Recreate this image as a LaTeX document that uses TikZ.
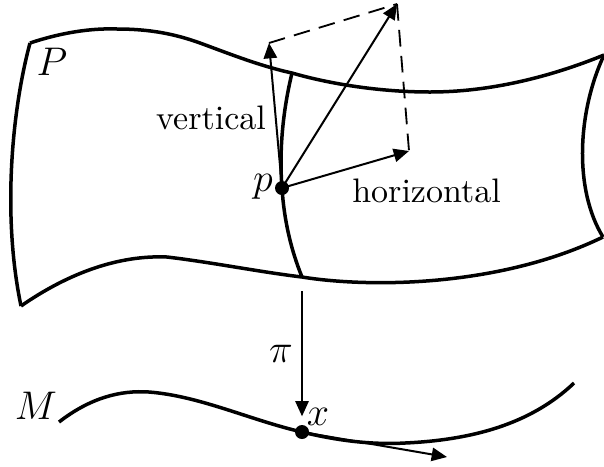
\documentclass[tikz,border=0pt]{standalone}
\usepackage{amsmath, amssymb}
\usepackage{tikz}
\usetikzlibrary{positioning, arrows.meta}

\tikzset{
  edgeline/.style={line width=1.05pt},
  vecline/.style={-{Triangle[length=4.6pt,width=4pt]}, line width=0.6pt},
  dashline/.style={line width=0.55pt, dash pattern=on 5pt off 2.8pt},
  dotnode/.style={circle, fill=black, inner sep=0pt, minimum size=4.2pt},
  lbl/.style={font=\fontsize{10.2}{12}\selectfont},
  mathlbl/.style={font=\fontsize{11.5}{13}\selectfont}
}

\begin{document}
\begin{tikzpicture}[x=0.3pt, y=-0.3pt]
    \useasboundingbox (0,0) rectangle (604,466);

    % bundle sheet
    \coordinate (NW) at (30,43);
    \coordinate (NE) at (604,55);
    \coordinate (SW) at (21,306);
    \coordinate (SE) at (603,237);
    \coordinate (fibtop) at (292,73);
    \coordinate (fibbot) at (302,277);

    \draw[edgeline] (NW) .. controls (60,33) and (90,28) .. (117,29)
        .. controls (150,29) and (175,34) .. (200,43)
        .. controls (230,54) and (260,66) .. (fibtop)
        .. controls (330,84) and (380,92) .. (430,92)
        .. controls (490,92) and (550,77) .. (NE);
    \draw[edgeline] (NW) .. controls (12,110) and (2,215) .. (SW);
    \draw[edgeline] (SW) .. controls (70,272) and (120,255) .. (167,257)
        .. controls (210,262) and (260,272) .. (fibbot)
        .. controls (370,288) and (500,287) .. (SE);
    \draw[edgeline] (NE) .. controls (577,113) and (574,190) .. (SE);
    \draw[edgeline] (fibtop) .. controls (283,110) and (279,150) .. (282,188)
        .. controls (284,220) and (291,250) .. (fibbot);

    % base curve
    \coordinate (baseL) at (59,422);
    \coordinate (baseR) at (574,383);
    \node[dotnode] (x) at (302,432) {};
    \draw[edgeline] (baseL) .. controls (90,398) and (120,390) .. (149,392)
        .. controls (200,396) and (250,420) .. (x.center)
        .. controls (335,440) and (370,445) .. (405,443)
        .. controls (470,440) and (530,425) .. (baseR);

    % vectors at p
    \node[dotnode] (p) at (282,188) {};
    \coordinate (vert) at (269,43);
    \coordinate (horz) at (409,151);
    \coordinate (diag) at (397,4);
    \coordinate (piTop) at (302,291);
    \coordinate (tang) at (447,457);
    \draw[vecline] (p.center) -- (vert);
    \draw[vecline] (p.center) -- (horz);
    \draw[vecline] (p.center) -- (diag);
    \draw[dashline] (vert) -- (diag);
    \draw[dashline] (diag) -- (horz);
    \draw[vecline, shorten >=2.4pt] (piTop) -- (x);
    \draw[vecline] (x.center) -- (tang);

    % labels
    \node[mathlbl] (lblP) at (52,62) {$P$};
    \node[mathlbl] (lblM) at (36,406) {$M$};
    \node[mathlbl] (lblp) at (263,187) {$p$};
    \node[mathlbl] (lblx) at (318,417) {$x$};
    \node[mathlbl] (lblpi) at (281,354) {$\pi$};
    \node[lbl] (lblv) at (211,118) {vertical};
    \node[lbl] (lblh) at (426.5,191) {horizontal};
\end{tikzpicture}
\end{document}
